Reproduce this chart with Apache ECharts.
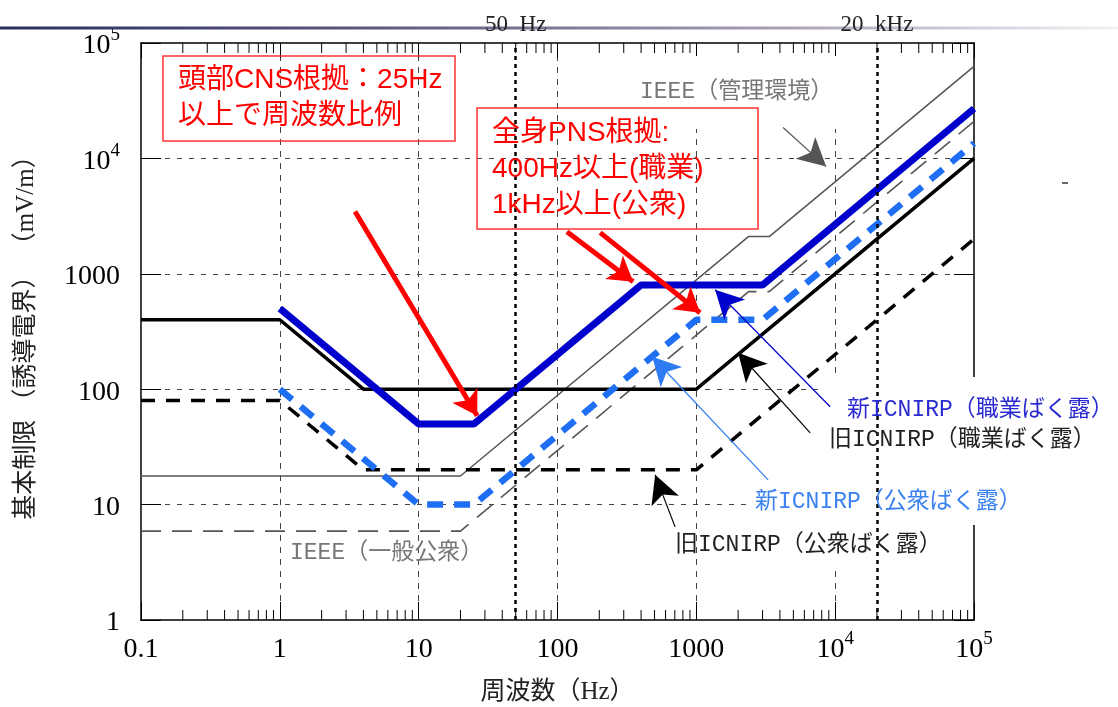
<!DOCTYPE html>
<html>
<head>
<meta charset="utf-8">
<script src="https://cdn.jsdelivr.net/npm/echarts@6/dist/echarts.min.js"></script>
<style>
html, body { margin: 0; padding: 0; background: #fff; }
#main { width: 1118px; height: 707px; }
</style>
</head>
<body>
<div id="main"></div>
<script>
// 周波数 (Hz) / 基本制限 (mV/m)
var oldOccFreq = [0.1, 1, 4, 1000, 100000];
var oldOccE = [400, 400, 100, 100, 10000];
var oldPubFreq = [0.1, 1, 4, 1000, 100000];
var oldPubE = [80, 80, 20, 20, 2000];
var newOccFreq = [1, 10, 25, 400, 3000, 100000];
var newOccE = [500, 50, 50, 800, 800, 27000];
var newPubFreq = [1, 10, 25, 1000, 3000, 100000];
var newPubE = [100, 10, 10, 400, 400, 13500];
var ieeeCtrlFreq = [0.1, 20, 2373, 3350, 100000];
var ieeeCtrlE = [17.7, 17.7, 2100, 2100, 62700];
var ieeePubFreq = [0.1, 20, 2380, 3350, 100000];
var ieeePubE = [5.89, 5.89, 701, 701, 20900];

var markFreqs = [50, 20000];
var markLabels = ['50  Hz', '20  kHz'];
var xTickLabels = ['0.1', '1', '10', '100', '1000', '10^4', '10^5'];
var yTickLabels = ['1', '10', '100', '1000', '10^4', '10^5'];
var minorDecades = [0.1, 1, 10, 100, 1000, 10000];
var minorSteps = [2, 3, 4, 5, 6, 7, 8, 9];

// 注釈の矢印 (データ座標)
var redArrows = [
	[[3.48, 3460], [26.4, 58.8]],
	[[117, 2318], [351, 854]],
	[[203, 2274], [1064, 460]]
];
var pointerArrows = [
	{from: [4217, 18500], to: [8610, 8490], color: '#555555'},
	{from: [9204, 70.4], to: [1365, 728], color: '#0000cc'},
	{from: [6607, 41.9], to: [2000, 207], color: '#000000'},
	{from: [3289, 16.4], to: [481, 191], color: '#2f7bf2'},
	{from: [703, 6.41], to: [505, 18.1], color: '#000000'}
];

function zip(f, e) {
	return f.map(function(v, i) { return [v, e[i]]; });
}

function supLabel(s) {
	var p = s.split('^');
	if (p.length > 1) {
		return '{b|' + p[0] + '}{s|' + p[1] + '}';
	}
	return '{b|' + s + '}';
}

var minorTicks = [];
minorDecades.forEach(function(d) {
	minorSteps.forEach(function(k) { minorTicks.push([d * k, 1]); });
});

var serif = "'Liberation Serif', 'Noto Sans CJK JP'";
var richLabel = {
	b: {fontSize: 28, fontFamily: serif, color: '#000', verticalAlign: 'bottom', lineHeight: 34},
	s: {fontSize: 19, fontFamily: serif, color: '#000', verticalAlign: 'top'}
};

var myChart = echarts.init(document.getElementById('main'));

var option = {
	animation: false,
	backgroundColor: '#fff',
	grid: {left: 141, right: 144, top: 43, bottom: 87, containLabel: false, outerBoundsMode: 'none'},
	xAxis: [
		{
			type: 'log', logBase: 10, min: 0.1, max: 100000, position: 'bottom',
			name: '周波数（Hz）', nameLocation: 'middle', nameGap: 60,
			nameTextStyle: {fontSize: 25, fontFamily: serif, color: '#222'},
			axisLine: {show: true, lineStyle: {color: '#000', width: 1.5}},
			axisTick: {inside: true, length: 18, lineStyle: {color: '#000'}},
			axisLabel: {
				margin: 10, rich: richLabel,
				formatter: function(v) { return supLabel(xTickLabels[Math.round(Math.log10(v)) + 1]); }
			},
			splitLine: {show: true, showMinLine: false, showMaxLine: false, lineStyle: {color: '#444', width: 1, type: [6, 6]}}
		},
		{
			type: 'log', logBase: 10, min: 0.1, max: 100000, position: 'top',
			axisLine: {show: true, lineStyle: {color: '#000', width: 1.5}},
			axisTick: {inside: true, length: 15, lineStyle: {color: '#000'}},
			axisLabel: {show: false},
			splitLine: {show: false}
		}
	],
	yAxis: [
		{
			type: 'log', logBase: 10, min: 1, max: 100000, position: 'left',
			name: '基本制限 （誘導電界） （mV/m）', nameLocation: 'middle', nameGap: 102, nameRotate: 90,
			nameTextStyle: {fontSize: 25, fontFamily: serif, color: '#222'},
			axisLine: {show: true, lineStyle: {color: '#000', width: 1.5}},
			axisTick: {inside: true, length: 20, lineStyle: {color: '#000'}},
			axisLabel: {
				margin: 21, rich: richLabel,
				formatter: function(v) { return supLabel(yTickLabels[Math.round(Math.log10(v))]); }
			},
			splitLine: {show: true, showMinLine: false, showMaxLine: false, lineStyle: {color: '#444', width: 1, type: [5, 7]}}
		},
		{
			type: 'log', logBase: 10, min: 1, max: 100000, position: 'right',
			axisLine: {show: true, lineStyle: {color: '#000', width: 1.5}},
			axisTick: {inside: true, length: 20, lineStyle: {color: '#000'}},
			axisLabel: {show: false},
			splitLine: {show: false}
		}
	],
	series: [
		{
			// 補助目盛り
			type: 'custom', silent: true, z: 3,
			data: minorTicks,
			renderItem: function(params, api) {
				var b = api.coord([api.value(0), 1]);
				var t = api.coord([api.value(0), 100000]);
				return {type: 'group', children: [
					{type: 'line', shape: {x1: b[0], y1: b[1], x2: b[0], y2: b[1] - 10}, style: {stroke: '#000', lineWidth: 1}},
					{type: 'line', shape: {x1: t[0], y1: t[1], x2: t[0], y2: t[1] + 10}, style: {stroke: '#000', lineWidth: 1}}
				]};
			}
		},
		{
			name: 'IEEE(管理環境)', type: 'line', symbol: 'none', silent: true, z: 2,
			data: zip(ieeeCtrlFreq, ieeeCtrlE),
			lineStyle: {color: '#555', width: 1.5},
			markLine: {
				silent: true, symbol: 'none', label: {show: false},
				lineStyle: {color: '#000', width: 2.5, type: [4, 4]},
				data: markFreqs.map(function(f) { return {xAxis: f}; })
			}
		},
		{
			name: 'IEEE(一般公衆)', type: 'line', symbol: 'none', silent: true, z: 2,
			data: zip(ieeePubFreq, ieeePubE),
			lineStyle: {color: '#555', width: 1.6, type: [20, 11]}
		},
		{
			name: '旧ICNIRP(職業ばく露)', type: 'line', symbol: 'none', silent: true, z: 2,
			data: zip(oldOccFreq, oldOccE),
			lineStyle: {color: '#000', width: 3.5}
		},
		{
			name: '旧ICNIRP(公衆ばく露)', type: 'line', symbol: 'none', silent: true, z: 2,
			data: zip(oldPubFreq, oldPubE),
			lineStyle: {color: '#000', width: 3.5, type: [14, 11]}
		},
		{
			name: '新ICNIRP(公衆ばく露)', type: 'line', symbol: 'none', silent: true, z: 2,
			data: zip(newPubFreq, newPubE),
			lineStyle: {color: '#1f6ff5', width: 6.5, type: [16, 11]}
		},
		{
			name: '新ICNIRP(職業ばく露)', type: 'line', symbol: 'none', silent: true, z: 2,
			data: zip(newOccFreq, newOccE),
			lineStyle: {color: '#0000cc', width: 7}
		},
		{
			// 矢印
			type: 'line', data: [], silent: true, z: 5,
			markLine: {
				silent: true, label: {show: false}, symbol: ['none', 'arrow'],
				data: redArrows.map(function(a) {
					return [
						{coord: a[0], symbol: 'none', lineStyle: {color: '#ff0000', width: 5, type: 'solid'}},
						{coord: a[1], symbol: 'arrow', symbolSize: [22, 24]}
					];
				}).concat(pointerArrows.map(function(a) {
					return [
						{coord: a.from, symbol: 'none', lineStyle: {color: a.color, width: 1.2, type: 'solid'}},
						{coord: a.to, symbol: 'arrow', symbolSize: [22, 28]}
					];
				}))
			}
		}
	]
};

myChart.setOption(option);

var redFont = "'Liberation Sans', 'Noto Sans CJK JP'";
var monoCjk = "'Liberation Mono', 'Noto Sans CJK JP'";

var graphics = [
	{
		type: 'line', z: 1,
		shape: {x1: 0, y1: 28, x2: 1118, y2: 28},
		style: {
			lineWidth: 3,
			stroke: new echarts.graphic.LinearGradient(0, 0, 1, 0, [
				{offset: 0, color: '#2b2e60'},
				{offset: 0.35, color: '#5e5a80'},
				{offset: 0.7, color: '#aaa0b4'},
				{offset: 1, color: '#f4f2f6'}
			])
		}
	},
	// ラベルの白地
	{type: 'rect', z: 1, shape: {x: 630, y: 56, width: 210, height: 73}, style: {fill: '#fff'}},
	{type: 'rect', z: 1, shape: {x: 820, y: 377, width: 295, height: 88}, style: {fill: '#fff'}},
	{type: 'rect', z: 1, shape: {x: 750, y: 465, width: 290, height: 60}, style: {fill: '#fff'}},
	{type: 'rect', z: 1, shape: {x: 705, y: 525, width: 240, height: 45}, style: {fill: '#fff'}},
	// 赤枠
	{type: 'rect', z: 10, shape: {x: 163, y: 56, width: 292, height: 85}, style: {fill: 'none', stroke: '#ff3333', lineWidth: 1.5}},
	{type: 'text', z: 10, x: 178, y: 62, style: {
		text: '頭部CNS根拠：25Hz\n以上で周波数比例', fill: '#ff0000', font: '28px ' + redFont, lineHeight: 36
	}},
	{type: 'rect', z: 10, shape: {x: 477, y: 108, width: 281, height: 121}, style: {fill: 'none', stroke: '#ff3333', lineWidth: 1.5}},
	{type: 'text', z: 10, x: 492, y: 115, style: {
		text: '全身PNS根拠:\n400Hz以上(職業)\n1kHz以上(公衆)', fill: '#ff0000', font: '28px ' + redFont, lineHeight: 36
	}},
	// 注記ラベル
	{type: 'text', z: 10, x: 640, y: 92, style: {text: 'IEEE（管理環境）', fill: '#777', font: '23px ' + monoCjk, verticalAlign: 'middle'}},
	{type: 'text', z: 10, x: 290, y: 553, style: {text: 'IEEE（一般公衆）', fill: '#777', font: '23px ' + monoCjk, verticalAlign: 'middle'}},
	{type: 'text', z: 10, x: 847, y: 410, style: {text: '新ICNIRP（職業ばく露）', fill: '#2a2ad0', font: '23px ' + monoCjk, verticalAlign: 'middle'}},
	{type: 'text', z: 10, x: 829, y: 440, style: {text: '旧ICNIRP（職業ばく露）', fill: '#222', font: '23px ' + monoCjk, verticalAlign: 'middle'}},
	{type: 'text', z: 10, x: 755, y: 502, style: {text: '新ICNIRP（公衆ばく露）', fill: '#3a82f2', font: '23px ' + monoCjk, verticalAlign: 'middle'}},
	{type: 'text', z: 10, x: 675, y: 545, style: {text: '旧ICNIRP（公衆ばく露）', fill: '#222', font: '23px ' + monoCjk, verticalAlign: 'middle'}},
	{type: 'line', z: 10, shape: {x1: 1062, y1: 183, x2: 1068, y2: 183}, style: {stroke: '#000', lineWidth: 1.2}}
];

markFreqs.forEach(function(f, i) {
	var px = myChart.convertToPixel({xAxisIndex: 0}, f);
	graphics.push({type: 'text', z: 10, x: px, y: 25, style: {
		text: markLabels[i], fill: '#222', font: '23px ' + serif, align: 'center', verticalAlign: 'middle'
	}});
});

myChart.setOption({graphic: graphics});

window.addEventListener('resize', function() {
	myChart.resize();
});
</script>
</body>
</html>
